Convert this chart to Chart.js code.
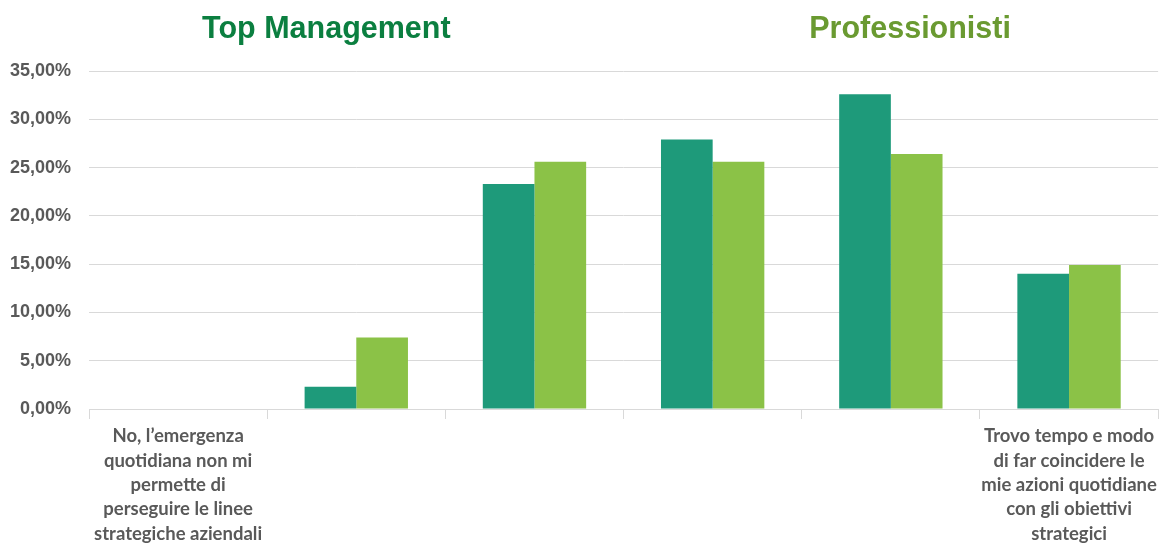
<!DOCTYPE html>
<html>
<head>
<meta charset="utf-8">
<script src="https://cdn.jsdelivr.net/npm/chart.js@4.4.1/dist/chart.umd.min.js"></script>
<style>
  html, body { margin: 0; padding: 0; background: #fff; }
  #wrap { width: 1162px; height: 543px; position: relative; }
</style>
</head>
<body>
<div id="wrap"><canvas id="chart"></canvas></div>
<script>
// categories: only the two extremes carry a label
var categories = [
  ['No, l\u2019emergenza', 'quotidiana non mi', 'permette di', 'perseguire le linee', 'strategiche aziendali'],
  '',
  '',
  '',
  '',
  ['Trovo tempo e modo', 'di far coincidere le', 'mie azioni quotidiane', 'con gli obiettivi', 'strategici']
];
var seriesNames = ['Top Management', 'Professionisti'];
var topManagement = [0, 2.3, 23.3, 27.9, 32.6, 14.0];
var professionisti = [0, 7.4, 25.6, 25.6, 26.4, 14.9];
var yTicks = [0, 5, 10, 15, 20, 25, 30, 35];

var barColors = ['#1e9a7a', '#8bc247'];
var titleColors = ['#0b7f40', '#6a9a31'];

// series names drawn as big coloured headings above the plot
var headings = {
  id: 'headings',
  afterDraw: function(chart) {
    var ctx = chart.ctx;
    var area = chart.chartArea;
    var at = [0.222, 0.768];
    ctx.save();
    ctx.font = 'bold 30.5px "Liberation Sans", Arial, sans-serif';
    ctx.textAlign = 'center';
    ctx.textBaseline = 'middle';
    chart.data.datasets.forEach(function(ds, i) {
      ctx.fillStyle = titleColors[i];
      ctx.fillText(ds.label, area.left + area.width * at[i], 30);
    });
    ctx.restore();
  }
};

new Chart(document.getElementById('chart'), {
  type: 'bar',
  data: {
    labels: categories,
    datasets: [
      { label: seriesNames[0], data: topManagement, backgroundColor: barColors[0] },
      { label: seriesNames[1], data: professionisti, backgroundColor: barColors[1] }
    ]
  },
  options: {
    responsive: true,
    maintainAspectRatio: false,
    animation: false,
    layout: { padding: { top: 71, right: 2, left: 0, bottom: 0 } },
    datasets: { bar: { categoryPercentage: 0.58, barPercentage: 1 } },
    plugins: {
      legend: { display: false },
      tooltip: { enabled: false }
    },
    scales: {
      x: {
        grid: {
          offset: true,
          drawOnChartArea: false,
          drawTicks: true,
          tickLength: 10,
          color: '#d9d9d9'
        },
        border: { color: '#d9d9d9' },
        ticks: {
          maxRotation: 0,
          autoSkip: false,
          color: '#595959',
          padding: 5,
          font: { family: 'Lato, "Liberation Sans", sans-serif', weight: 'bold', size: 18.5, lineHeight: 1.32 }
        },
        afterFit: function(scale) { scale.height = 134; }
      },
      y: {
        min: 0,
        max: 35,
        afterBuildTicks: function(scale) {
          scale.ticks = yTicks.map(function(v) { return { value: v }; });
        },
        grid: { color: '#d9d9d9', drawTicks: false },
        border: { display: false },
        ticks: {
          padding: 18,
          color: '#595959',
          font: { family: '"Liberation Sans", Arial, sans-serif', weight: 'bold', size: 18 },
          callback: function(v) { return v.toFixed(2).replace('.', ',') + '%'; }
        },
        afterFit: function(scale) { scale.width = 89; }
      }
    }
  },
  plugins: [headings]
});
</script>
</body>
</html>
